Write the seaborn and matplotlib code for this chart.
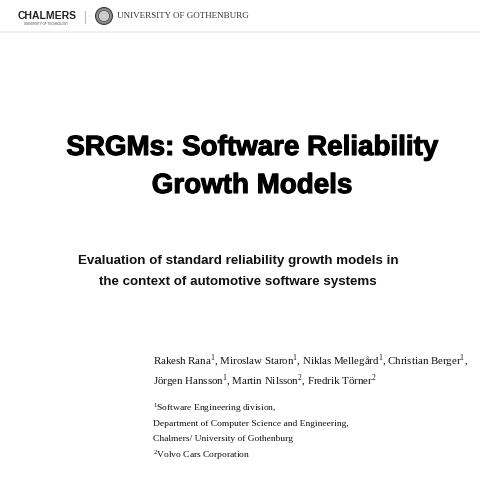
import matplotlib.pyplot as plt
import seaborn as sns
import matplotlib.patheffects as pe
from matplotlib.patches import Circle

sns.set_theme(style="white")
plt.rcParams['mathtext.fontset'] = 'custom'
plt.rcParams['mathtext.rm'] = 'Liberation Serif'

title_lines = ["SRGMs: Software Reliability", "Growth Models"]
subtitle_lines = ["Evaluation of standard reliability growth models in",
                  "the context of automotive software systems"]
author_lines = [r"Rakesh Rana$^{\mathrm{1}}$, Miroslaw Staron$^{\mathrm{1}}$, Niklas Mellegård$^{\mathrm{1}}$, Christian Berger$^{\mathrm{1}}$,",
                r"Jörgen Hansson$^{\mathrm{1}}$, Martin Nilsson$^{\mathrm{2}}$, Fredrik Törner$^{\mathrm{2}}$"]
affil_lines = [r"$^{\mathrm{1}}$Software Engineering division,",
               "Department of Computer Science and Engineering,",
               "Chalmers/ University of Gothenburg",
               r"$^{\mathrm{2}}$Volvo Cars Corporation"]

fig = plt.figure(figsize=(4.8, 4.8), dpi=100)
ax = fig.add_axes([0, 0, 1, 1])
ax.set_xlim(0, 480)
ax.set_ylim(480, 0)
ax.axis('off')

# header
ax.text(18, 16, "CHALMERS", family="Liberation Sans", weight="bold", fontsize=7.5, va="center", color="#222222")
ax.text(24, 24, "UNIVERSITY OF TECHNOLOGY", family="Liberation Sans", fontsize=2.2, va="center", color="#444444")
ax.plot([85, 85], [11, 23], color="#bbbbbb", lw=0.8)
ax.add_patch(Circle((104, 16), 8.5, facecolor="#888888", edgecolor="#444444", lw=0.8))
ax.add_patch(Circle((104, 16), 5.5, facecolor="#cccccc", edgecolor="#555555", lw=0.5))
ax.text(117, 16, "UNIVERSITY OF GOTHENBURG", family="Liberation Serif", fontsize=6.5, va="center", color="#333333")
ax.plot([0, 480], [32, 32], color="#eeeeee", lw=1.2)

heavy = [pe.Stroke(linewidth=0.8, foreground="black"), pe.Normal()]
for i, line in enumerate(title_lines):
    ax.text(252, 148 + i * 38, line, family="Liberation Sans", weight="bold", fontsize=20,
            ha="center", va="center", color="black", path_effects=heavy)
for i, line in enumerate(subtitle_lines):
    ax.text(238, 261 + i * 21, line, family="Liberation Sans", weight="bold", fontsize=9.6,
            ha="center", va="center", color="#111111")
for i, line in enumerate(author_lines):
    ax.text(153, 361 + i * 20, line, family="Liberation Serif", fontsize=7.8,
            ha="left", va="center", color="#111111")
for i, line in enumerate(affil_lines):
    ax.text(153, 408 + i * 15.6, line, family="Liberation Serif", fontsize=6.8,
            ha="left", va="center", color="#111111")

fig.savefig("out.png", dpi=100)
